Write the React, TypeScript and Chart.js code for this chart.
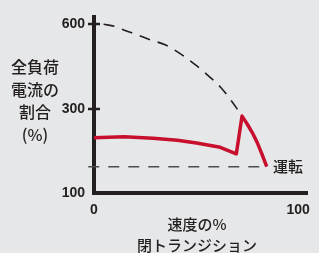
import React, { useEffect, useRef } from "react";
import { Chart, registerables } from "chart.js";

Chart.register(...registerables);

// Axis ticks (evenly spaced schematic axis: 100 / 300 / 600)
const yTickValues = [0, 1, 2];
const yTickLabels = ["100", "300", "600"];
const xTickValues = [0, 100];
const xTickLabels = ["0", "100"];

// Closed-transition current (red)
const currentSpeed = [0, 14.7, 28.9, 40.8, 50.2, 61.8, 69.7, 72.5, 75.1, 77.5, 79.9, 82.2, 84.6];
const currentLevel = [0.655, 0.667, 0.649, 0.626, 0.593, 0.542, 0.464, 0.912, 0.815, 0.717, 0.6, 0.464, 0.312];

// Across-the-line current (dashed)
const dolSpeed = [4.7, 10.0, 13.7, 20.4, 28.0, 35.1, 43.1, 50.2, 55.9, 62.1, 67.8, 72.5];
const dolLevel = [2.0, 1.977, 1.942, 1.883, 1.813, 1.754, 1.637, 1.509, 1.392, 1.251, 1.076, 0.912];

// Running current reference line
const runSpeed = [-2.8, 84.2];
const runLevel = [0.312, 0.312];
const runLabel = "運転";

const yTitle = ["全負荷", "電流の", "割合", "(%)"];
const xTitle = ["速度の%", "閉トランジション"];

const INK = "#231f20";
const RED = "#c8102e";
const BG = "#e6e7e8";
const CJK = '"Noto Sans CJK JP", "Noto Sans", sans-serif';

const decor = {
  id: "decor",
  beforeDraw(chart: any) {
    const { ctx, width, height } = chart;
    ctx.save();
    ctx.fillStyle = BG;
    ctx.fillRect(0, 0, width, height);
    ctx.restore();
  },
  afterDraw(chart: any) {
    const { ctx, chartArea } = chart;
    const x = chart.scales.x;
    const y = chart.scales.y;
    ctx.save();
    ctx.strokeStyle = INK;
    ctx.lineWidth = 2.5;
    yTickValues.forEach((v) => {
      if (v === y.min) return;
      const py = Math.round(y.getPixelForValue(v));
      ctx.beginPath();
      ctx.moveTo(chartArea.left - 6, py);
      ctx.lineTo(chartArea.left + 6, py);
      ctx.stroke();
    });
    ctx.fillStyle = INK;
    ctx.textAlign = "center";
    ctx.textBaseline = "middle";
    ctx.font = "500 16px " + CJK;
    yTitle.forEach((t, i) => ctx.fillText(t, 35, chartArea.top + 50 + i * 22.5));
    ctx.font = "500 15px " + CJK;
    xTitle.forEach((t, i) => ctx.fillText(t, 197, chartArea.bottom + 31 + i * 21));
    ctx.textAlign = "left";
    const lx = x.getPixelForValue(runSpeed[runSpeed.length - 1]) + 7;
    const ly = y.getPixelForValue(runLevel[runLevel.length - 1]);
    ctx.fillText(runLabel, lx, ly);
    ctx.restore();
  },
};

export default function App() {
  const ref = useRef<HTMLCanvasElement | null>(null);

  useEffect(() => {
    document.body.style.margin = "0";
    document.body.style.background = BG;
    const canvas = ref.current;
    if (!canvas) return;
    const chart = new Chart(canvas, {
      type: "line",
      data: {
        datasets: [
          {
            label: "closed",
            data: currentSpeed.map((s, i) => ({ x: s, y: currentLevel[i] })),
            borderColor: RED,
            borderWidth: 3.5,
            pointRadius: 0,
            tension: 0,
            fill: false,
            borderJoinStyle: "round",
          },
          {
            label: "dol",
            data: dolSpeed.map((s, i) => ({ x: s, y: dolLevel[i] })),
            borderColor: INK,
            borderWidth: 1.6,
            borderDash: [11, 8],
            pointRadius: 0,
            cubicInterpolationMode: "monotone",
            fill: false,
          },
          {
            label: "run",
            data: runSpeed.map((s, i) => ({ x: s, y: runLevel[i] })),
            borderColor: "#4d4d4f",
            borderWidth: 1.6,
            borderDash: [11, 9],
            pointRadius: 0,
            fill: false,
            clip: false,
          },
        ],
      } as any,
      options: {
        animation: false,
        responsive: false,
        events: [],
        layout: { padding: { top: 15, right: 3, left: 0, bottom: 0 } },
        plugins: { legend: { display: false }, tooltip: { enabled: false } },
        scales: {
          x: {
            type: "linear",
            min: 0,
            max: 104.7,
            afterFit: (s: any) => {
              s.height = 60;
            },
            afterBuildTicks: (s: any) => {
              s.ticks = xTickValues.map((v) => ({ value: v }));
            },
            ticks: {
              padding: 9,
              color: INK,
              font: { family: '"Liberation Sans", Arial, sans-serif', size: 14, weight: "bold" },
              callback: (v: any) => xTickLabels[xTickValues.indexOf(Number(v))],
            },
            grid: { display: false, drawTicks: false },
            border: { display: true, width: 4, color: INK },
          },
          y: {
            type: "linear",
            min: 0,
            max: 2.082,
            afterFit: (s: any) => {
              s.width = 94;
            },
            afterBuildTicks: (s: any) => {
              s.ticks = yTickValues.map((v) => ({ value: v }));
            },
            ticks: {
              padding: 9,
              color: INK,
              font: { family: '"Liberation Sans", Arial, sans-serif', size: 14, weight: "bold" },
              callback: (v: any) => yTickLabels[yTickValues.indexOf(Number(v))],
            },
            grid: { display: false, drawTicks: false },
            border: { display: true, width: 4, color: INK },
          },
        },
      } as any,
      plugins: [decor],
    });
    return () => chart.destroy();
  }, []);

  return (
    <div style={{ position: "fixed", left: 0, top: 0, width: 319, height: 253, background: BG }}>
      <canvas ref={ref} width={319} height={253} />
    </div>
  );
}
